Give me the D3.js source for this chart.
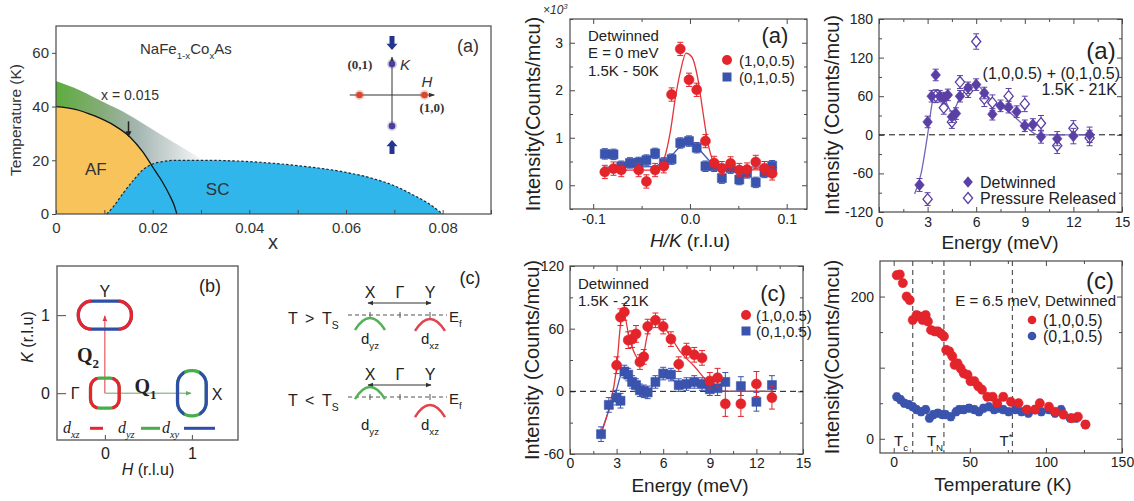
<!DOCTYPE html>
<html>
<head>
<meta charset="utf-8">
<script src="https://cdn.jsdelivr.net/npm/d3@7"></script>
<style>
  html, body { margin: 0; padding: 0; background: #fff; }
  svg { display: block; }
</style>
</head>
<body>
<svg id="fig" width="1134" height="501"></svg>
<script>
// ================= Phase diagram of NaFe1-xCoxAs =================
const phaseXTicks = [0, 0.02, 0.04, 0.06, 0.08];
const phaseTTicks = [0, 20, 40, 60];
// [x, T(K)] along the magnetic (T_N), structural (T_s) and superconducting boundaries
const tnBoundary = [[0, 40], [0.004, 39], [0.008, 36.5], [0.012, 33], [0.0153, 28.7], [0.018, 23], [0.02, 17.5], [0.022, 12], [0.0235, 7], [0.0245, 3], [0.025, 0]];
const tsBoundary = [[0, 49.5], [0.005, 46], [0.01, 41.5], [0.015, 37], [0.02, 31.5], [0.025, 26], [0.0305, 20]];
const scDome = [[0.0105, 0], [0.012, 3], [0.014, 8], [0.016, 12.5], [0.018, 16.5], [0.02, 18.6], [0.022, 19.5], [0.025, 20], [0.03, 20], [0.04, 19.5], [0.05, 18], [0.06, 15.5], [0.065, 13.5], [0.07, 10.5], [0.074, 7], [0.077, 4], [0.08, 0]];
const markedDoping = 0.015;
// Bragg-type positions in the (H,K) inset
const insetSpots = [[1, 0], [-1, 0], [0, 1], [0, -1]];

// ================= Fermi pockets in the (H,K) plane =================
const pockets = [
  { name: "Y", h: 0, k: 1, w: 0.61, ht: 0.36, ends: "xz", sides: "xy" },
  { name: "Γ", h: 0, k: 0, w: 0.33, ht: 0.385, ends: "xz", sides: "yz" },
  { name: "X", h: 1, k: 0, w: 0.33, ht: 0.58, ends: "xy", sides: "yz" }
];
const orbitals = ["xz", "yz", "xy"];
const hkTicks = [0, 1];

// ================= Band schematic above / below T_s =================
const kPoints = ["X", "Γ", "Y"];
const bandRows = [
  { rel: ">", bands: [{ k: "X", orb: "yz", top: -0.25 }, { k: "Y", orb: "xz", top: -0.33 }] },
  { rel: "<", bands: [{ k: "X", orb: "yz", top: 0.83 }, { k: "Y", orb: "xz", top: -0.67 }] }
];

// ================= Elastic scans, E = 0 meV (x10^3 counts) =================
const elasticHK = [-0.088, -0.079, -0.071, -0.062, -0.053, -0.045, -0.036, -0.027, -0.019, -0.010, -0.001, 0.007, 0.016, 0.025, 0.033, 0.042, 0.051, 0.059, 0.068, 0.077, 0.085];
const elasticRed = [0.28, 0.35, 0.32, null, 0.32, 0.08, 0.32, 0.40, 1.91, 2.87, 2.22, 2.01, 0.93, 0.47, 0.36, 0.46, 0.32, 0.33, 0.49, 0.36, 0.25];
const elasticBlue = [0.66, 0.65, 0.40, 0.47, 0.48, 0.53, 0.67, 0.47, 0.55, 0.89, 0.93, 0.79, 0.40, 0.40, 0.15, 0.36, 0.12, 0.26, 0.06, 0.27, 0.41];
const elasticErrRed = 0.14;
const elasticErrBlue = 0.11;
const elasticFitRed = [[-0.09, 0.32], [-0.04, 0.32], [-0.032, 0.38], [-0.026, 0.6], [-0.02, 1.16], [-0.015, 1.85], [-0.01, 2.38], [-0.004, 2.78], [0.002, 2.7], [0.008, 2.26], [0.013, 1.6], [0.018, 0.95], [0.023, 0.55], [0.028, 0.38], [0.035, 0.33], [0.09, 0.32]];
const elasticFitBlue = [[-0.09, 0.38], [-0.04, 0.39], [-0.03, 0.45], [-0.02, 0.6], [-0.012, 0.78], [-0.004, 0.9], [0.004, 0.86], [0.012, 0.7], [0.02, 0.52], [0.03, 0.41], [0.04, 0.385], [0.09, 0.38]];

// ================= Summed spin-resonance, 1.5K - 21K =================
const sumEnergyDet = [2.5, 3, 3.25, 3.5, 3.75, 4, 4.25, 4.5, 4.75, 5, 5.5, 6, 6.5, 7, 7.5, 8, 8.5, 9, 9.5, 10, 11, 12, 13];
const sumDet = [-78, 20, 60, 93, 60, 57, 62, 28, 33, 60, 73, 78, 65, 32, 45, 43, 36, 14, 16, -3, -6, -2, 0];
const sumDetErr = [10, 9, 9, 9, 9, 9, 9, 9, 9, 9, 9, 9, 9, 9, 9, 9, 9, 9, 9, 10, 11, 12, 12];
const sumEnergyRel = [3, 3.5, 4, 4.5, 5, 5.5, 6, 6.5, 7, 8, 9, 10, 11, 12, 13];
const sumRel = [-100, 60, 42, 20, 82, 68, 145, 56, 50, 60, 48, 18, -17, 10, -5];
const sumRelErr = [10, 10, 10, 10, 10, 10, 12, 12, 12, 12, 12, 12, 12, 12, 12];
const sumFit = [[2.2, -92], [2.6, -60], [3.0, 0], [3.3, 52], [3.6, 70], [4.0, 58], [4.5, 36], [5.0, 57], [5.5, 73], [6.0, 78], [6.5, 66], [7.0, 52], [8.0, 36], [9.0, 14], [9.8, 0], [13, 0]];

// ================= Detwinned energy scans, 1.5K - 21K =================
const resEnergyRed = [3, 3.25, 3.5, 3.75, 4, 4.25, 4.5, 4.75, 5, 5.5, 6, 6.5, 7, 7.5, 8, 8.5, 9, 9.5, 10, 11, 12, 13];
const resRed = [25, 71, 76, 49, 50, 55, 28, 33, 62, 68, 62, 50, 26, 39, 35, 32, 10, 13, -12, -12, 7, -6];
const resRedErr = [8, 8, 8, 8, 8, 8, 7, 7, 7, 7, 7, 7, 7, 7, 7, 7, 8, 9, 12, 12, 12, 11];
const resEnergyBlue = [2, 2.5, 3, 3.25, 3.5, 3.75, 4, 4.25, 4.5, 4.75, 5, 5.5, 6, 6.5, 7, 7.5, 8, 8.5, 9, 9.5, 10, 11, 12, 13];
const resBlue = [-41, -13, -6, -9, 19, 16, 9, 6, 1, 0, -1, 9, 17, 16, 6, 7, 9, 7, 2, 3, 9, 5, -10, 6];
const resBlueErr = [7, 7, 7, 7, 6, 6, 6, 6, 6, 6, 6, 6, 6, 6, 6, 6, 6, 6, 6, 7, 9, 9, 9, 9];
const resFitRed = [[2, -40], [2.5, -17], [3, 22], [3.3, 68], [3.5, 72], [3.8, 52], [4.2, 35], [4.6, 28], [5.0, 55], [5.5, 66], [6.0, 62], [6.5, 52], [7, 40], [8, 24], [9, 7], [9.7, 0], [13, 0]];
const resFitBlue = [[2, -40], [2.5, -18], [3, 2], [3.4, 19], [3.8, 13], [4.5, 2], [5, 1], [5.5, 8], [6, 16], [6.5, 12], [7, 8], [8, 7], [9, 3], [10, 0], [13, 0]];

// ================= Temperature dependence at E = 6.5 meV =================
const tempRed = [2, 4, 6, 8.5, 10.5, 12.5, 15, 17, 19, 21, 22.5, 24.5, 27, 29, 31, 33, 34.5, 36.5, 38.5, 40, 42, 44, 46, 48.5, 50.5, 53, 55.5, 58, 61.5, 65, 68, 72, 77, 82, 87.5, 93, 96, 102, 106, 111.5, 117, 121, 126];
const intRed = [230, 231, 219, 200, 195, 167, 174, 172, 167, 174, 165, 153, 151, 151, 148, 144, 125, 123, 116, 104, 106, 99, 92, 90, 81, 81, 74, 69, 59, 59, 50, 59, 52, 50, 41, 41, 50, 45, 38, 34, 29, 31, 20];
const tempBlue = [2, 4.5, 7, 10, 12.5, 15, 18, 21, 23.5, 26, 29, 32, 34, 37.5, 41, 43, 46, 49.5, 53, 56, 59, 62.5, 66, 69, 72, 75.5, 80, 84, 88.5, 93, 97, 102, 106, 110, 116, 120, 126];
const intBlue = [59, 55, 50, 48, 45, 41, 38, 41, 29, 34, 36, 34, 34, 31, 38, 41, 41, 43, 41, 38, 43, 45, 41, 43, 41, 38, 41, 38, 36, 41, 38, 41, 36, 41, 29, 29, 20];
const tempErr = 5;
const tempMarks = [{ sub: "c", T: 12.5, kind: "sub" }, { sub: "N", T: 33, kind: "sub" }, { sub: "*", T: 78, kind: "sup" }];

// ---------------------------------------------------------------
const svg = d3.select("#fig");
const defs = svg.append("defs");
const SANS = "'Liberation Sans', Arial, Helvetica, sans-serif";
const SERIF = "'Liberation Serif', 'Times New Roman', serif";
const RED = "#e3242b", BLUE = "#3a53ad", PURPLE = "#5a40a5";
const ORB = { xz: "#e5262f", yz: "#45ad4c", xy: "#2f4ea6" };
const INK = "#222";

function txt(g, x, y, s, o = {}) {
  const t = g.append("text").attr("x", x).attr("y", y).text(s)
    .attr("font-family", o.family || SANS).attr("font-size", o.size || 14)
    .attr("text-anchor", o.anchor || "start").attr("dominant-baseline", "central")
    .attr("fill", o.fill || INK);
  if (o.style) t.attr("font-style", o.style);
  if (o.weight) t.attr("font-weight", o.weight);
  if (o.rotate) t.attr("transform", `rotate(${o.rotate},${x},${y})`);
  return t;
}
// text with sub/superscripts; y is the visual centre of the main line
function rich(g, x, y, parts, o = {}) {
  const base = o.size || 14;
  const yb = y + base * 0.36;
  const t = g.append("text").attr("x", x).attr("y", yb)
    .attr("font-family", o.family || SANS).attr("font-size", base)
    .attr("text-anchor", o.anchor || "start").attr("fill", o.fill || INK);
  if (o.style) t.attr("font-style", o.style);
  if (o.weight) t.attr("font-weight", o.weight);
  if (o.rotate) t.attr("transform", `rotate(${o.rotate},${x},${y})`);
  let shift = 0;
  parts.forEach(p => {
    const [s, kind, st] = typeof p === "string" ? [p] : p;
    const target = kind === "sub" ? base * 0.3 : kind === "sup" ? -base * 0.42 : 0;
    const ts = t.append("tspan").text(s);
    if (target - shift !== 0) ts.attr("dy", target - shift);
    shift = target;
    if (kind) ts.attr("font-size", base * 0.65);
    if (st) ts.attr("font-style", st);
  });
  return t;
}

// boxed frame with inward ticks on all four sides
function frame(g, x, y, o) {
  const [xl, xr] = x.range(), [yb, yt] = y.range();
  const col = "#4a4a4a";
  const add = (axis, tr, vals, size, fmt, pad) => {
    const a = g.append("g").attr("transform", tr)
      .call(axis.tickValues(vals).tickSize(size).tickPadding(pad ?? 6).tickFormat(fmt || (() => "")));
    a.select(".domain").remove();
    a.selectAll("line").attr("stroke", col).attr("stroke-width", 1);
    a.attr("font-family", SANS).attr("font-size", o.fs || 14);
    a.selectAll("text").attr("fill", INK);
    return a;
  };
  const T = o.tick ?? 5, M = o.minor ?? 3;
  if (o.xMinor) {
    add(d3.axisBottom(x), `translate(0,${yb})`, o.xMinor, -M);
    add(d3.axisTop(x), `translate(0,${yt})`, o.xMinor, -M);
  }
  if (o.yMinor) {
    add(d3.axisLeft(y), `translate(${xl},0)`, o.yMinor, -M);
    add(d3.axisRight(y), `translate(${xr},0)`, o.yMinor, -M);
  }
  add(d3.axisBottom(x), `translate(0,${yb})`, o.xTicks, -T, o.xFmt, o.xPad);
  add(d3.axisTop(x), `translate(0,${yt})`, o.xTicks, -T);
  add(d3.axisLeft(y), `translate(${xl},0)`, o.yTicks, -T, o.yFmt, o.yPad);
  add(d3.axisRight(y), `translate(${xr},0)`, o.yTicks, -T);
  g.append("rect").attr("x", xl).attr("y", yt).attr("width", xr - xl).attr("height", yb - yt)
    .attr("fill", "none").attr("stroke", col).attr("stroke-width", 1.2);
}

const zip = (xs, ys, es) => xs.map((v, i) => ({ x: v, y: ys[i], e: Array.isArray(es) ? es[i] : es })).filter(d => d.y != null);

const SHAPES = {
  circle: r => d3.symbol(d3.symbolCircle, Math.PI * r * r)(),
  square: r => d3.symbol(d3.symbolSquare, 4 * r * r)(),
  diamond: r => `M0,${-r * 1.2}L${r},0L0,${r * 1.2}L${-r},0Z`
};
function marks(g, data, x, y, shape, r, color, open) {
  const p = g.append("g");
  p.selectAll("path.err").data(data).join("path").attr("class", "err")
    .attr("d", d => {
      const X = x(d.x), a = y(d.y + d.e), b = y(d.y - d.e);
      return `M${X},${a}V${b}M${X - 3},${a}H${X + 3}M${X - 3},${b}H${X + 3}`;
    })
    .attr("stroke", color).attr("stroke-width", 1).attr("fill", "none");
  p.selectAll("path.mk").data(data).join("path").attr("class", "mk")
    .attr("transform", d => `translate(${x(d.x)},${y(d.y)})`)
    .attr("d", SHAPES[shape](r))
    .attr("fill", open ? "#fff" : color)
    .attr("stroke", color).attr("stroke-width", open ? 1.3 : 0.6);
}
function fitLine(g, pts, x, y, color) {
  g.append("path").attr("d", d3.line(d => x(d[0]), d => y(d[1])).curve(d3.curveMonotoneX)(pts))
    .attr("fill", "none").attr("stroke", color).attr("stroke-width", 1.3);
}
function zeroLine(g, x, y) {
  g.append("line").attr("x1", x.range()[0]).attr("x2", x.range()[1]).attr("y1", y(0)).attr("y2", y(0))
    .attr("stroke", "#111").attr("stroke-width", 1).attr("stroke-dasharray", "6,4");
}
function arrowMarker(id, color) {
  defs.append("marker").attr("id", id).attr("viewBox", "0 0 10 10").attr("refX", 9).attr("refY", 5)
    .attr("markerWidth", 6).attr("markerHeight", 6).attr("orient", "auto-start-reverse")
    .append("path").attr("d", "M0,1L10,5L0,9Z").attr("fill", color);
}
arrowMarker("arRed", "#e2383d");
arrowMarker("arGreen", "#62a862");
arrowMarker("arInk", "#333");

// ================= Phase diagram =================
{
  const g = svg.append("g");
  const x = d3.scaleLinear([0, 0.09], [56, 491]);
  const y = d3.scaleLinear([0, 70], [214, 26]);
  const line = d3.line(d => x(d[0]), d => y(d[1])).curve(d3.curveMonotoneX);
  const tsEnd = tsBoundary[tsBoundary.length - 1][0];
  const grad = defs.append("linearGradient").attr("id", "nematicFade")
    .attr("gradientUnits", "userSpaceOnUse")
    .attr("x1", x(0)).attr("x2", x(tsEnd)).attr("y1", 0).attr("y2", 0);
  [[0, "#5dad3d"], [0.3, "#84ab76"], [0.55, "#a4b6b2"], [0.8, "#d2d9d9"], [1, "#fafafa"]]
    .forEach(([o, c]) => grad.append("stop").attr("offset", o).attr("stop-color", c));

  g.append("path").attr("d", line(tsBoundary) + `L${x(tsEnd)},${y(0)}L${x(0)},${y(0)}Z`).attr("fill", "url(#nematicFade)");
  g.append("path").attr("d", line(tnBoundary) + `L${x(0)},${y(0)}Z`).attr("fill", "#f8c35b");
  g.append("path").attr("d", line(scDome) + "Z").attr("fill", "#30b6ea");
  g.append("path").attr("d", line(scDome)).attr("fill", "none").attr("stroke", "#1c2a3a")
    .attr("stroke-width", 1.2).attr("stroke-dasharray", "2.5,2");
  g.append("path").attr("d", line(tnBoundary)).attr("fill", "none").attr("stroke", "#141414").attr("stroke-width", 1.3);

  // axes
  const col = "#4a4a4a";
  const bx = g.append("g").attr("transform", `translate(0,${y(0)})`)
    .call(d3.axisBottom(x).tickValues(d3.range(10).map(i => i / 100)).tickSize(-4).tickPadding(8)
      .tickFormat(d => phaseXTicks.some(t => Math.abs(t - d) < 1e-9) ? (d === 0 ? "0" : d.toFixed(2)) : ""));
  const by = g.append("g").attr("transform", `translate(${x(0)},0)`)
    .call(d3.axisLeft(y).tickValues(phaseTTicks).tickSize(4).tickPadding(3).tickFormat(d => d));
  [bx, by].forEach(a => {
    a.select(".domain").remove();
    a.selectAll("line").attr("stroke", col);
    a.attr("font-family", SANS).attr("font-size", 15);
    a.selectAll("text").attr("fill", "#333");
  });
  g.append("rect").attr("x", x(0)).attr("y", y(70)).attr("width", x(0.09) - x(0)).attr("height", y(0) - y(70))
    .attr("fill", "none").attr("stroke", col).attr("stroke-width", 1.2);
  txt(g, 15, 120, "Temperature (K)", { size: 15.5, anchor: "middle", rotate: -90, fill: "#333" });
  txt(g, 273, 242, "x", { size: 20, anchor: "middle", fill: "#333" });

  // annotations
  rich(g, 140, 49, ["NaFe", ["1-x", "sub"], "Co", ["x", "sub"], "As"], { size: 15, fill: "#333" });
  txt(g, x(0.006), y(16.5), "AF", { size: 17, fill: "#333" });
  txt(g, x(0.031), y(9), "SC", { size: 17, fill: "#333" });
  txt(g, 101, 95, `x = ${markedDoping}`, { size: 14, fill: "#333" });
  const ax = x(markedDoping);
  g.append("line").attr("x1", ax).attr("x2", ax).attr("y1", y(34.5)).attr("y2", y(30.5)).attr("stroke", "#222").attr("stroke-width", 1.5);
  g.append("path").attr("d", `M${ax - 3},${y(30.8)}L${ax + 3},${y(30.8)}L${ax},${y(28.6)}Z`).attr("fill", "#222");
  txt(g, 468, 46, "(a)", { size: 18, anchor: "middle", fill: "#333" });

  // (H,K) inset
  const ix = d3.scaleLinear([-1, 1], [359.5, 424.5]);
  const iy = d3.scaleLinear([-1, 1], [126, 64]);
  g.append("line").attr("x1", ix(-1.3)).attr("x2", ix(1.3)).attr("y1", iy(0)).attr("y2", iy(0))
    .attr("stroke", "#333").attr("stroke-width", 1).attr("marker-end", "url(#arInk)");
  g.append("line").attr("x1", ix(0)).attr("x2", ix(0)).attr("y1", iy(-1.1)).attr("y2", iy(1.22))
    .attr("stroke", "#333").attr("stroke-width", 1).attr("marker-end", "url(#arInk)");
  insetSpots.forEach(([h, k]) => {
    const c = h !== 0 ? "#d9482e" : "#4a3f9a";
    g.append("circle").attr("cx", ix(h)).attr("cy", iy(k)).attr("r", 5).attr("fill", c).attr("opacity", 0.25);
    g.append("circle").attr("cx", ix(h)).attr("cy", iy(k)).attr("r", 3.3).attr("fill", c);
  });
  // blue block arrows squeezing along K
  [1, -1].forEach(s => {
    const tip = iy(s * 1.45), tail = iy(s * 1.9), cx = ix(0);
    const neck = tip + (tail - tip) * 0.45;
    g.append("path").attr("d", `M${cx},${tip}L${cx + 5.5},${neck}L${cx + 2.5},${neck}L${cx + 2.5},${tail}L${cx - 2.5},${tail}L${cx - 2.5},${neck}L${cx - 5.5},${neck}Z`)
      .attr("fill", "#24358f");
  });
  txt(g, 360, 64, "(0,1)", { size: 13, anchor: "middle", family: SERIF, weight: "bold", fill: "#333" });
  txt(g, 405, 64, "K", { size: 15, anchor: "middle", style: "italic", fill: "#333" });
  txt(g, 427, 81, "H", { size: 15, anchor: "middle", style: "italic", fill: "#333" });
  txt(g, 432, 107, "(1,0)", { size: 13, anchor: "middle", family: SERIF, weight: "bold", fill: "#333" });
}

// ================= Fermi pockets =================
{
  const g = svg.append("g");
  const x = d3.scaleLinear([-0.55, 1.53], [57, 238]);
  const y = d3.scaleLinear([-0.6, 1.63], [440, 266]);
  const col = "#4a4a4a";
  const ax1 = g.append("g").attr("transform", `translate(0,${y.range()[0]})`)
    .call(d3.axisBottom(x).tickValues(hkTicks).tickSize(-5).tickPadding(8).tickFormat(d => d));
  const ax2 = g.append("g").attr("transform", `translate(${x.range()[0]},0)`)
    .call(d3.axisLeft(y).tickValues(hkTicks).tickSize(-9).tickPadding(7).tickFormat(d => d));
  [ax1, ax2].forEach(a => {
    a.select(".domain").remove();
    a.selectAll("line").attr("stroke", col);
    a.attr("font-family", SANS).attr("font-size", 16);
    a.selectAll("text").attr("fill", INK);
  });
  g.append("rect").attr("x", 57).attr("y", 266).attr("width", 181).attr("height", 174)
    .attr("fill", "none").attr("stroke", "#6a6a6a").attr("stroke-width", 1.5);
  rich(g, 148, 469, [["H", null, "italic"], " (r.l.u)"], { size: 16, anchor: "middle" });
  rich(g, 27, 337, [["K", null, "italic"], " (r.l.u)"], { size: 16, anchor: "middle", rotate: -90 });

  // nesting vectors
  g.append("line").attr("x1", x(0)).attr("x2", x(0)).attr("y1", y(0)).attr("y2", y(0.99))
    .attr("stroke", "#e2383d").attr("stroke-width", 1).attr("marker-end", "url(#arRed)");
  g.append("line").attr("x1", x(0)).attr("x2", x(0.99)).attr("y1", y(0)).attr("y2", y(0))
    .attr("stroke", "#62a862").attr("stroke-width", 1).attr("marker-end", "url(#arGreen)");

  pockets.forEach((p, i) => {
    const cx = x(p.h), cy = y(p.k);
    const w = x(p.w) - x(0), h = y(0) - y(p.ht);
    const r = Math.min(w, h) / 2 * (p.name === "Γ" ? 0.62 : 0.95);
    const id = "pocketEnds" + i;
    const f = 0.52 * w / 2;
    const cp = defs.append("clipPath").attr("id", id);
    cp.append("rect").attr("x", cx - w / 2 - 6).attr("y", cy - h / 2 - 6).attr("width", w / 2 - f + 6).attr("height", h + 12);
    cp.append("rect").attr("x", cx + f).attr("y", cy - h / 2 - 6).attr("width", w / 2 - f + 6).attr("height", h + 12);
    const shape = s => s.attr("x", cx - w / 2).attr("y", cy - h / 2).attr("width", w).attr("height", h)
      .attr("rx", r).attr("ry", r).attr("fill", "none").attr("stroke-width", 3.2);
    g.append("rect").call(shape).attr("stroke", ORB[p.sides]);
    g.append("rect").call(shape).attr("stroke", ORB[p.ends]).attr("clip-path", `url(#${id})`);
  });

  txt(g, x(0), y(1.3), "Y", { size: 16, anchor: "middle" });
  txt(g, x(-0.34), y(0), "Γ", { size: 16, anchor: "middle" });
  txt(g, x(1.29), y(-0.02), "X", { size: 16, anchor: "middle" });
  rich(g, x(-0.32), y(0.49), ["Q", ["2", "sub"]], { size: 20, family: SERIF, weight: "bold" });
  rich(g, x(0.34), y(0.09), ["Q", ["1", "sub"]], { size: 20, family: SERIF, weight: "bold" });
  txt(g, 210, 286, "(b)", { size: 18, anchor: "middle" });

  // orbital key
  const keyY = y(-0.45);
  const keyX = [[63, 90, 103], [118, 141, 160], [162, 184, 215]];
  orbitals.forEach((o, i) => {
    rich(g, keyX[i][0], keyY - 1, ["d", [o, "sub"]], { size: 16, family: SERIF, style: "italic" });
    g.append("line").attr("x1", keyX[i][1]).attr("x2", keyX[i][2]).attr("y1", keyY).attr("y2", keyY)
      .attr("stroke", ORB[o]).attr("stroke-width", 3);
  });
}

// ================= Band schematic =================
{
  const g = svg.append("g");
  const kx = d3.scalePoint(kPoints, [370, 430]);
  const efY = d3.scalePoint(d3.range(bandRows.length), [315, 397]);
  const eOff = d3.scaleLinear([-1, 1], [12, -12]);
  const orbCol = { xz: "#e0454d", yz: "#55b157" };
  bandRows.forEach((row, i) => {
    const ef = efY(i);
    kPoints.forEach(k => txt(g, kx(k), ef - 23, k, { size: 16, anchor: "middle" }));
    g.append("line").attr("x1", kx("X") - 2).attr("x2", kx("Y") + 1).attr("y1", ef - 12).attr("y2", ef - 12)
      .attr("stroke", "#333").attr("stroke-width", 1)
      .attr("marker-start", "url(#arInk)").attr("marker-end", "url(#arInk)");
    g.append("line").attr("x1", 348).attr("x2", 447).attr("y1", ef).attr("y2", ef)
      .attr("stroke", "#555").attr("stroke-width", 1).attr("stroke-dasharray", "4,3");
    kPoints.forEach(k => g.append("line").attr("x1", kx(k)).attr("x2", kx(k)).attr("y1", ef - 3).attr("y2", ef + 3)
      .attr("stroke", "#555").attr("stroke-width", 1));
    rich(g, 449, ef + 2, ["E", ["f", "sub"]], { size: 15 });
    txt(g, 288, ef + 3, "T", { size: 16 });
    txt(g, 305, ef + 3, row.rel, { size: 16 });
    rich(g, 322, ef + 3, ["T", ["S", "sub"]], { size: 16 });
    let lowest = -Infinity;
    row.bands.forEach(b => {
      const apex = ef + eOff(b.top), cx = kx(b.k);
      lowest = Math.max(lowest, apex + 12);
      g.append("path").attr("d", `M${cx - 15},${apex + 12}Q${cx},${apex - 12} ${cx + 15},${apex + 12}`)
        .attr("fill", "none").attr("stroke", orbCol[b.orb]).attr("stroke-width", 2.5);
    });
    row.bands.forEach(b => rich(g, kx(b.k), lowest + 8, ["d", [b.orb, "sub"]], { size: 15, anchor: "middle" }));
  });
  txt(g, 470, 278, "(c)", { size: 18, anchor: "middle" });
}

// ================= Elastic scans =================
{
  const g = svg.append("g");
  const x = d3.scaleLinear([-0.124, 0.121], [570, 807]);
  const y = d3.scaleLinear([-0.5, 3.5], [209, 19]);
  frame(g, x, y, {
    xTicks: [-0.1, 0, 0.1], xMinor: [-0.05, 0.05], xFmt: d => d.toFixed(1), xPad: 5,
    yTicks: [0, 1, 2, 3], yMinor: [-0.5, 0.5, 1.5, 2.5, 3.5], yFmt: d => d, yPad: 7
  });
  fitLine(g, elasticFitBlue, x, y, "#3f5ab5");
  fitLine(g, elasticFitRed, x, y, "#e2353b");
  marks(g, zip(elasticHK, elasticBlue, elasticErrBlue), x, y, "square", 4.5, BLUE);
  marks(g, zip(elasticHK, elasticRed, elasticErrRed), x, y, "circle", 5, RED);
  rich(g, 543, 10, ["×10", ["3", "sup"]], { size: 12, style: "italic", fill: "#333" });
  txt(g, 533, 114, "Intensity(Counts/mcu)", { size: 20, anchor: "middle", rotate: -90 });
  rich(g, 690, 240, [["H/K", null, "italic"], " (r.l.u)"], { size: 19, anchor: "middle" });
  txt(g, 588, 35, "Detwinned", { size: 15 });
  txt(g, 588, 52, "E = 0 meV", { size: 15 });
  txt(g, 588, 70, "1.5K - 50K", { size: 15 });
  txt(g, 775, 35, "(a)", { size: 22, anchor: "middle" });
  g.append("path").attr("transform", "translate(727,60)").attr("d", SHAPES.circle(5)).attr("fill", RED);
  g.append("path").attr("transform", "translate(727,77)").attr("d", SHAPES.square(4.5)).attr("fill", BLUE);
  txt(g, 739, 60, "(1,0,0.5)", { size: 15 });
  txt(g, 739, 77, "(0,1,0.5)", { size: 15 });
}

// ================= Summed resonance =================
{
  const g = svg.append("g");
  const x = d3.scaleLinear([0, 15], [879, 1122]);
  const y = d3.scaleLinear([-120, 180], [212, 19]);
  frame(g, x, y, {
    xTicks: d3.range(0, 16, 3), xMinor: d3.range(1.5, 15, 3), xFmt: d => d, xPad: 5,
    yTicks: d3.range(-120, 181, 60), yMinor: d3.range(-90, 180, 60), yFmt: d => d, yPad: 6
  });
  zeroLine(g, x, y);
  fitLine(g, sumFit, x, y, "#7464bd");
  marks(g, zip(sumEnergyRel, sumRel, sumRelErr), x, y, "diamond", 4.6, PURPLE, true);
  marks(g, zip(sumEnergyDet, sumDet, sumDetErr), x, y, "diamond", 4.8, PURPLE, false);
  txt(g, 832, 115, "Intensity (Counts/mcu)", { size: 20, anchor: "middle", rotate: -90 });
  txt(g, 1000, 242, "Energy (meV)", { size: 19, anchor: "middle" });
  txt(g, 1101, 50, "(a)", { size: 24, anchor: "middle" });
  txt(g, 1120, 73, "(1,0,0.5) + (0,1,0.5)", { size: 16, anchor: "end" });
  txt(g, 1117, 89, "1.5K - 21K", { size: 16, anchor: "end" });
  g.append("path").attr("transform", "translate(968,182)").attr("d", SHAPES.diamond(4.8)).attr("fill", PURPLE);
  g.append("path").attr("transform", "translate(968,198)").attr("d", SHAPES.diamond(4.6)).attr("fill", "#fff")
    .attr("stroke", PURPLE).attr("stroke-width", 1.3);
  txt(g, 980, 182, "Detwinned", { size: 16 });
  txt(g, 980, 198, "Pressure Released", { size: 16 });
}

// ================= Detwinned energy scans =================
{
  const g = svg.append("g");
  const x = d3.scaleLinear([0, 15], [570, 803]);
  const y = d3.scaleLinear([-60, 120], [454, 266]);
  frame(g, x, y, {
    xTicks: d3.range(0, 16, 3), xMinor: d3.range(1.5, 15, 3), xFmt: d => d, xPad: 4,
    yTicks: [-60, 0, 60, 120], yMinor: [-30, 30, 90], yFmt: d => d, yPad: 6
  });
  zeroLine(g, x, y);
  fitLine(g, resFitBlue, x, y, "#3f5ab5");
  fitLine(g, resFitRed, x, y, "#e2353b");
  marks(g, zip(resEnergyBlue, resBlue, resBlueErr), x, y, "square", 4.5, BLUE);
  marks(g, zip(resEnergyRed, resRed, resRedErr), x, y, "circle", 5, RED);
  txt(g, 532, 360, "Intensity (Counts/mcu)", { size: 20, anchor: "middle", rotate: -90 });
  txt(g, 690, 485, "Energy (meV)", { size: 19, anchor: "middle" });
  txt(g, 578, 283, "Detwinned", { size: 15 });
  txt(g, 578, 300, "1.5K - 21K", { size: 15 });
  txt(g, 773, 293, "(c)", { size: 22, anchor: "middle" });
  g.append("path").attr("transform", "translate(746,315)").attr("d", SHAPES.circle(5)).attr("fill", RED);
  g.append("path").attr("transform", "translate(746,331)").attr("d", SHAPES.square(4.5)).attr("fill", BLUE);
  txt(g, 756, 315, "(1,0,0.5)", { size: 15 });
  txt(g, 756, 331, "(0,1,0.5)", { size: 15 });
}

// ================= Temperature dependence =================
{
  const g = svg.append("g");
  const x = d3.scaleLinear([-9, 150], [880, 1122]);
  const y = d3.scaleLinear([-20, 250], [453, 261]);
  frame(g, x, y, {
    xTicks: [0, 50, 100, 150], xMinor: [25, 75, 125], xFmt: d => d, xPad: 4,
    yTicks: [0, 100, 200], yMinor: [50, 150], yFmt: d => (d === 100 ? "" : d), yPad: 6
  });
  tempMarks.forEach(m => {
    g.append("line").attr("x1", x(m.T)).attr("x2", x(m.T)).attr("y1", y.range()[1]).attr("y2", y.range()[0])
      .attr("stroke", "#555").attr("stroke-width", 1.2).attr("stroke-dasharray", "5,4");
  });
  marks(g, zip(tempBlue, intBlue, tempErr), x, y, "circle", 4.3, BLUE);
  marks(g, zip(tempRed, intRed, tempErr), x, y, "circle", 4.6, RED);
  const lab = [901, 935, 1006];
  tempMarks.forEach((m, i) => rich(g, lab[i], 441, ["T", [m.sub, m.kind]], { size: 15, anchor: "middle" }));
  txt(g, 832, 357, "Intensity(Counts/mcu)", { size: 20, anchor: "middle", rotate: -90 });
  txt(g, 1003, 484, "Temperature (K)", { size: 19, anchor: "middle" });
  txt(g, 1100, 280, "(c)", { size: 24, anchor: "middle" });
  txt(g, 1116, 300, "E = 6.5 meV, Detwinned", { size: 15, anchor: "end" });
  g.append("circle").attr("cx", 1032).attr("cy", 320).attr("r", 4.3).attr("fill", RED);
  g.append("circle").attr("cx", 1032).attr("cy", 336).attr("r", 4.3).attr("fill", BLUE);
  txt(g, 1043, 320, "(1,0,0.5)", { size: 16 });
  txt(g, 1043, 336, "(0,1,0.5)", { size: 16 });
}
</script>
</body>
</html>
